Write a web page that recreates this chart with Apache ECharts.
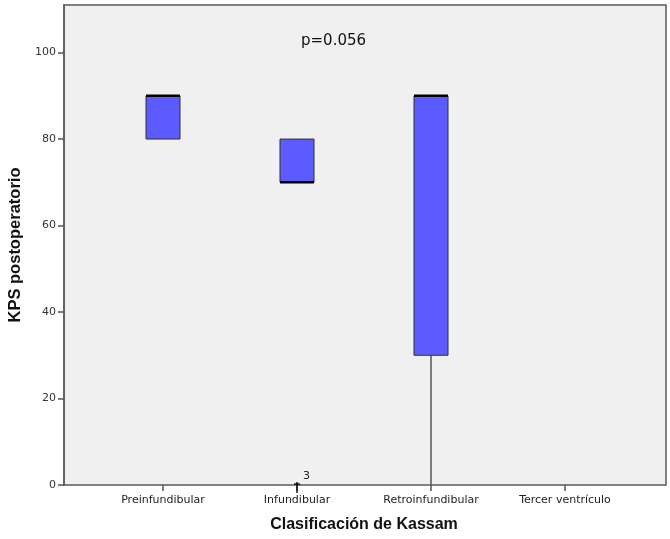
<!DOCTYPE html>
<html>
<head>
<meta charset="utf-8">
<script src="https://cdn.jsdelivr.net/npm/echarts@6/dist/echarts.min.js"></script>
<style>html,body{margin:0;padding:0;background:#fff;}#c{width:670px;height:539px;}</style>
</head>
<body>
<div id="c"></div>
<script>
// Data
const categories = ['Preinfundibular', 'Infundibular', 'Retroinfundibular', 'Tercer ventrículo'];
// [min, Q1, median, Q3, max]  (Tercer ventrículo has no cases)
const boxValues = [
  [80, 80, 90, 90, 90],
  [70, 70, 70, 80, 80],
  [0, 30, 90, 90, 90],
  null
];
const outliers = [[1, 0, '3']]; // [category index, value, case label]
const yTicks = [0, 20, 40, 60, 80, 100];
const pText = 'p=0.056';

const chart = echarts.init(document.getElementById('c'), null, {renderer: 'canvas'});
const boxW = 34;
const boxData = boxValues.map((b, i) => b ? [i].concat(b) : null).filter(d => d);

const option = {
  animation: false,
  backgroundColor: '#ffffff',
  grid: [
    {left: 64, right: 4, top: 5, bottom: 54, show: true, backgroundColor: '#f0f0f0', borderColor: '#5a5a5a', borderWidth: 1.5, outerBoundsMode: 'none', containLabel: false},
    {left: 96, right: 38, top: 5, bottom: 54, outerBoundsMode: 'none', containLabel: false}
  ],
  xAxis: [
    {gridIndex: 0, type: 'category', data: [''], show: false},
    {gridIndex: 1, type: 'category', data: categories,
     name: 'Clasificación de Kassam', nameLocation: 'middle', nameGap: 32,
     nameTextStyle: {fontFamily: 'Liberation Sans', fontWeight: 'bold', fontSize: 16, color: '#111'},
     axisLine: {show: false},
     axisTick: {show: true, alignWithLabel: true, length: 6, lineStyle: {color: '#555', width: 1.5}},
     axisLabel: {fontFamily: 'DejaVu Sans', fontSize: 11, color: '#222', margin: 10},
     splitLine: {show: false}}
  ],
  yAxis: [
    {gridIndex: 0, type: 'value', min: 0, max: 111,
     name: 'KPS postoperatorio', nameLocation: 'middle', nameGap: 40,
     nameTextStyle: {fontFamily: 'Liberation Sans', fontWeight: 'bold', fontSize: 16.5, color: '#111'},
     axisLine: {show: true, lineStyle: {color: '#5a5a5a', width: 1.5}},
     axisTick: {show: true, length: 6, customValues: yTicks, lineStyle: {color: '#555', width: 1.5}},
     axisLabel: {fontFamily: 'DejaVu Sans', fontSize: 11, color: '#333', margin: 8, customValues: yTicks},
     splitLine: {show: false}},
    {gridIndex: 1, type: 'value', min: 0, max: 111, show: false, splitLine: {show: false}}
  ],
  series: [
    {type: 'custom', xAxisIndex: 1, yAxisIndex: 1, data: boxData,
     encode: {x: 0, y: [1, 2, 3, 4, 5]},
     renderItem: function (params, api) {
       const x = api.value(0);
       const pMin = api.coord([x, api.value(1)]);
       const pQ1 = api.coord([x, api.value(2)]);
       const pMed = api.coord([x, api.value(3)]);
       const pQ3 = api.coord([x, api.value(4)]);
       const pMax = api.coord([x, api.value(5)]);
       const cx = pQ1[0];
       const children = [];
       if (pMin[1] > pQ1[1]) children.push({type: 'line', shape: {x1: cx, y1: pQ1[1], x2: cx, y2: pMin[1]}, style: {stroke: '#555', lineWidth: 1.5}});
       if (pMax[1] < pQ3[1]) children.push({type: 'line', shape: {x1: cx, y1: pQ3[1], x2: cx, y2: pMax[1]}, style: {stroke: '#555', lineWidth: 1.5}});
       children.push({type: 'rect', shape: {x: cx - boxW / 2, y: pQ3[1], width: boxW, height: pQ1[1] - pQ3[1]},
                      style: {fill: '#5b5bff', stroke: '#333', lineWidth: 1}});
       children.push({type: 'line', shape: {x1: cx - boxW / 2, y1: pMed[1], x2: cx + boxW / 2, y2: pMed[1]},
                      style: {stroke: '#000', lineWidth: 2.5}});
       return {type: 'group', children: children};
     }},
    {type: 'custom', xAxisIndex: 1, yAxisIndex: 1, data: outliers, z: 10,
     renderItem: function (params, api) {
       const p = api.coord([api.value(0), api.value(1)]);
       return {type: 'group', children: [
         {type: 'line', shape: {x1: p[0], y1: p[1] - 3, x2: p[0], y2: p[1] + 8}, style: {stroke: '#000', lineWidth: 1.3}},
         {type: 'line', shape: {x1: p[0] - 3, y1: p[1] - 1, x2: p[0] + 3, y2: p[1] - 1}, style: {stroke: '#000', lineWidth: 1.3}},
         {type: 'text', x: p[0] + 6, y: p[1] - 9, style: {text: api.value(2), fontFamily: 'DejaVu Sans', fontSize: 11, fill: '#222', align: 'left', verticalAlign: 'middle'}}
       ]};
     }}
  ],
  graphic: [
    {type: 'text', left: 301, top: 34, style: {text: pText, fontFamily: 'DejaVu Sans', fontSize: 15, fill: '#111'}}
  ]
};
chart.setOption(option);
</script>
</body>
</html>
